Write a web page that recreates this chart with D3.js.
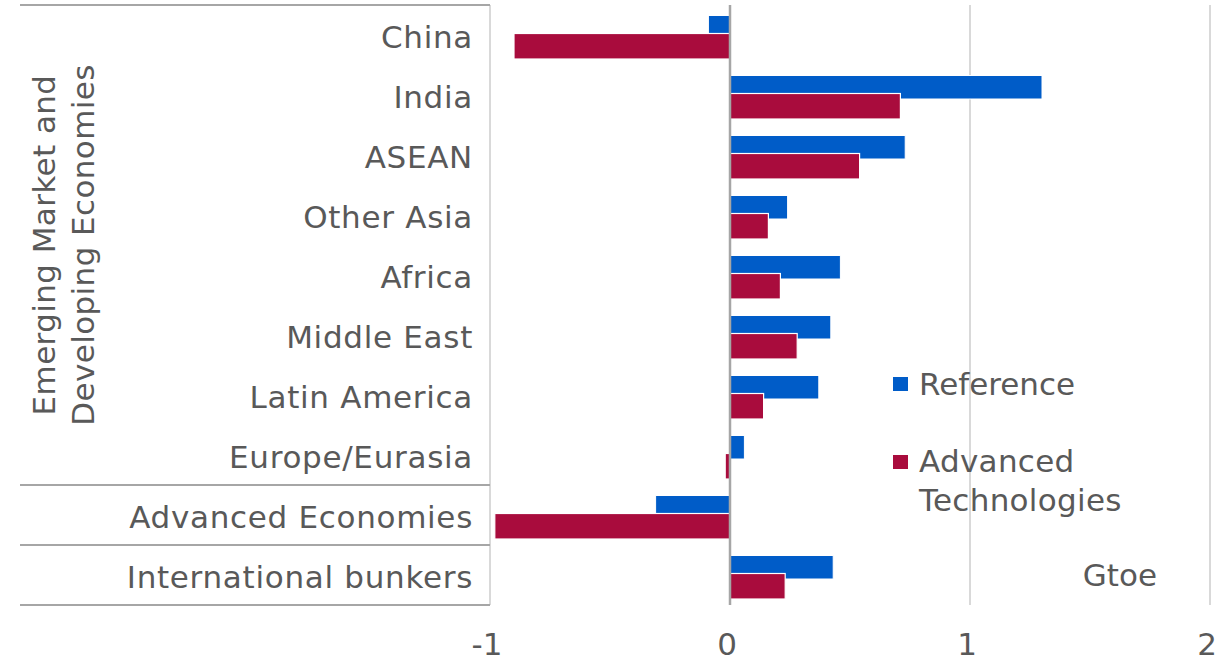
<!DOCTYPE html>
<html>
<head>
<meta charset="utf-8">
<script src="https://cdn.jsdelivr.net/npm/d3@7"></script>
<style>
  html, body { margin: 0; padding: 0; background: #fff; }
  svg { display: block; }
  text { font-family: "DejaVu Sans", Verdana, sans-serif; fill: #595959; }
</style>
</head>
<body>
<svg id="chart" width="1229" height="664"></svg>
<script>
// Change in primary energy demand by region, Gtoe
const regions = ["China", "India", "ASEAN", "Other Asia", "Africa", "Middle East",
                 "Latin America", "Europe/Eurasia", "Advanced Economies", "International bunkers"];
const reference = [-0.09, 1.30, 0.73, 0.24, 0.46, 0.42, 0.37, 0.06, -0.31, 0.43];
const advancedTech = [-0.90, 0.71, 0.54, 0.16, 0.21, 0.28, 0.14, -0.02, -0.98, 0.23];
const xTicks = [-1, 0, 1, 2];
const seriesNames = ["Reference", ["Advanced", "Technologies"]];
const groupLabel = ["Emerging Market and", "Developing Economies"];
const unitLabel = "Gtoe";

const BLUE = "#005cc8";
const RED = "#a90c3d";

const svg = d3.select("#chart");
const FS = 31;

const x = d3.scaleLinear().domain([-1, 2]).range([490, 1210]);
const y = d3.scaleBand().domain(regions).range([5, 605]);
const mid = d => y(d) + y.bandwidth() / 2;

// vertical gridlines
svg.append("g").selectAll("line").data(xTicks.filter(d => d !== 0)).join("line")
  .attr("x1", d => x(d)).attr("x2", d => x(d))
  .attr("y1", 5).attr("y2", 605)
  .attr("stroke", "#d9d9d9").attr("stroke-width", 2);

// bars: Reference behind, Advanced Technologies overlapping below it
const rows = regions.map((r, i) => ({ r, ref: reference[i], adv: advancedTech[i] }));
const bars = svg.append("g");
bars.selectAll("rect.ref").data(rows).join("rect")
  .attr("class", "ref")
  .attr("x", d => Math.min(x(0), x(d.ref)))
  .attr("width", d => Math.abs(x(d.ref) - x(0)))
  .attr("y", d => mid(d.r) - 19.5)
  .attr("height", 23.5)
  .attr("fill", BLUE).attr("stroke", "#fff").attr("stroke-width", 1);
bars.selectAll("rect.adv").data(rows).join("rect")
  .attr("class", "adv")
  .attr("x", d => Math.min(x(0), x(d.adv)))
  .attr("width", d => Math.abs(x(d.adv) - x(0)))
  .attr("y", d => mid(d.r) - 1.5)
  .attr("height", 25.5)
  .attr("fill", RED).attr("stroke", "#fff").attr("stroke-width", 1.2);

// zero line
svg.append("line")
  .attr("x1", x(0)).attr("x2", x(0)).attr("y1", 5).attr("y2", 605)
  .attr("stroke", "#a6a6a6").attr("stroke-width", 2.5);

// category axis frame: top, group separators, bottom
const sepY = [5, y("Advanced Economies"), y("International bunkers"), 605];
svg.append("g").selectAll("line").data(sepY).join("line")
  .attr("x1", 20).attr("x2", 490).attr("y1", d => d).attr("y2", d => d)
  .attr("stroke", "#a6a6a6").attr("stroke-width", 2);

// category labels
svg.append("g").selectAll("text").data(regions).join("text")
  .attr("x", 473)
  .attr("y", d => mid(d) + 12.5)
  .attr("text-anchor", "end")
  .attr("letter-spacing", 0.7)
  .attr("font-size", FS)
  .text(d => d);

// group label, rotated
const gl = svg.append("text")
  .attr("transform", `translate(62,245) rotate(-90)`)
  .attr("text-anchor", "middle")
  .attr("letter-spacing", 0.4)
  .attr("font-size", FS);
groupLabel.forEach((t, i) => gl.append("tspan").attr("x", 0).attr("y", i === 0 ? -7 : 32).text(t));

// x axis tick labels
svg.append("g").selectAll("text").data(xTicks).join("text")
  .attr("x", d => x(d) - 3)
  .attr("y", 655)
  .attr("text-anchor", "middle")
  .attr("font-size", FS)
  .text(d => d);

// legend
const legend = svg.append("g");
legend.append("rect").attr("x", 893).attr("y", 377).attr("width", 15).attr("height", 14).attr("fill", BLUE);
legend.append("text").attr("x", 919).attr("y", 395)
  .attr("font-size", FS).text(seriesNames[0]);
legend.append("rect").attr("x", 893).attr("y", 455).attr("width", 15).attr("height", 14).attr("fill", RED);
const lt = legend.append("text").attr("x", 919).attr("y", 472)
  .attr("font-size", FS).attr("letter-spacing", 0.3);
seriesNames[1].forEach((t, i) => lt.append("tspan").attr("x", 919).attr("dy", i === 0 ? 0 : 39).text(t));

// unit label
svg.append("text").attr("x", 1157).attr("y", 586).attr("text-anchor", "end")
  .attr("font-size", FS).text(unitLabel);
</script>
</body>
</html>
